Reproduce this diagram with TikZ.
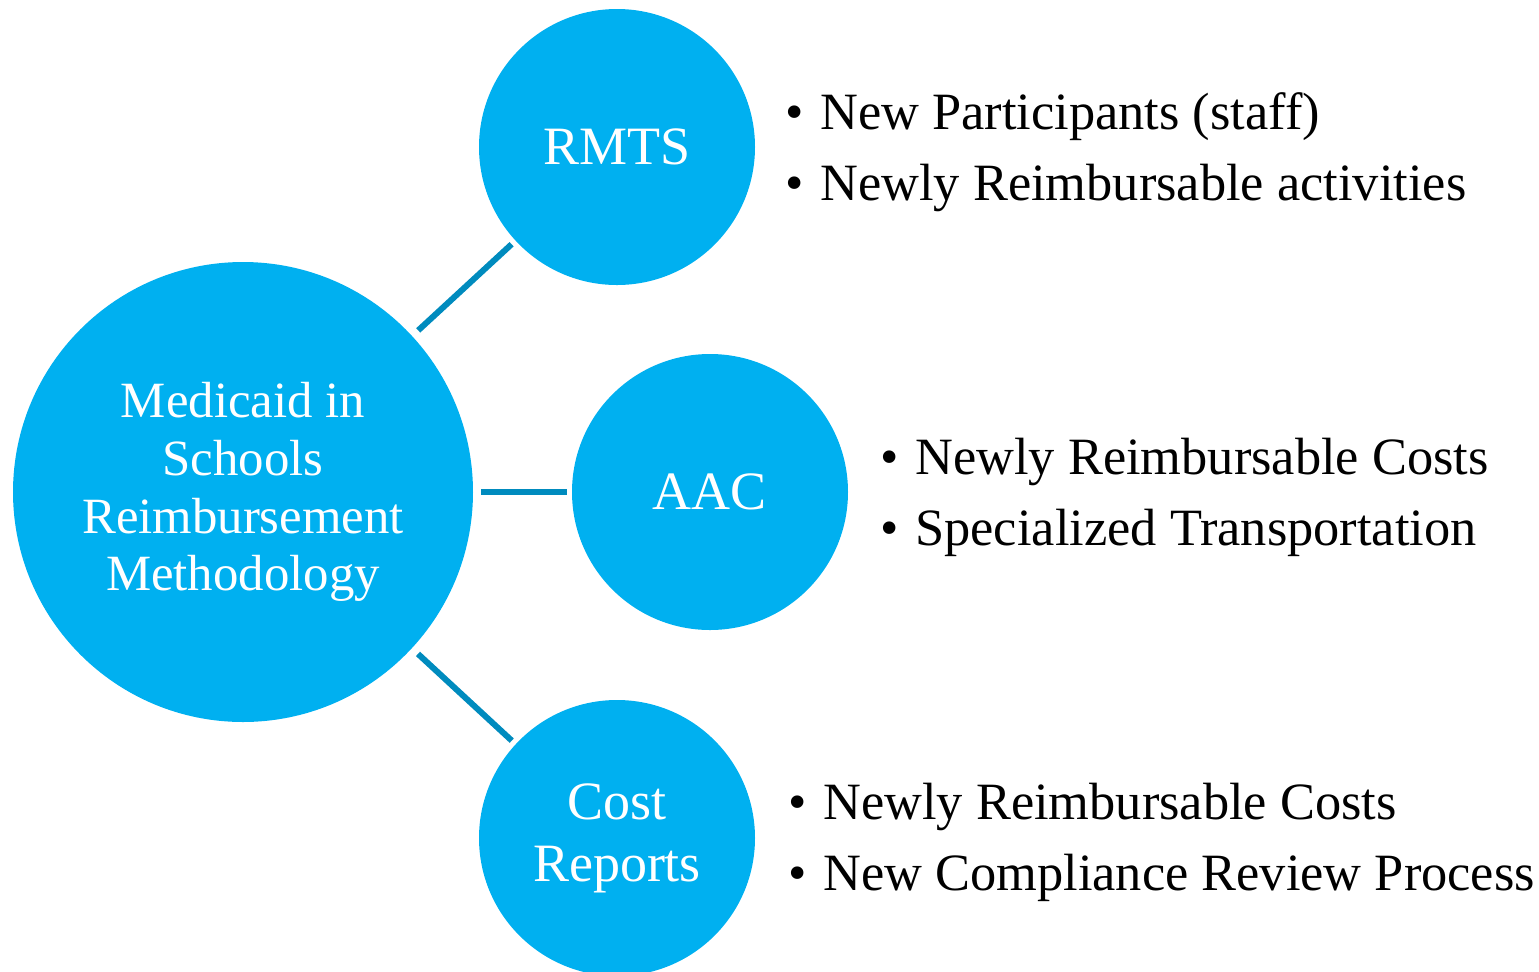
\documentclass[tikz,border=0pt]{standalone}
\usepackage{fontspec}
\setmainfont{Liberation Serif}
\definecolor{bubblefill}{RGB}{0,176,240}
\definecolor{linkline}{RGB}{0,139,190}
\tikzset{
  bubble/.style={circle, fill=bubblefill, text=white, align=center, inner sep=0pt},
  link/.style={draw=linkline, line width=3pt, shorten <=4pt, shorten >=2.5pt},
  bullet/.style={anchor=base west, inner sep=0pt, font=\fontsize{26.2}{30}\selectfont}
}
\newcommand{\dotitem}[1]{\makebox[17.5pt][l]{\textbullet}#1}
\begin{document}
\begin{tikzpicture}[x=0.5pt, y=-0.5pt]
\useasboundingbox (0,0) rectangle (1539,971);
% the four bubbles
\node[bubble, minimum size=230pt, font=\fontsize{25.4}{28.9}\selectfont] (mis) at (243,492) {Medicaid in\\Schools\\Reimbursement\\Methodology};
\node[bubble, minimum size=138pt, font=\fontsize{27}{31}\selectfont] (rmts) at (617,147) {RMTS};
\node[bubble, minimum size=138pt, font=\fontsize{27}{31}\selectfont] (aac) at (710,492) {AAC};
\node[bubble, minimum size=138pt, font=\fontsize{27}{31}\selectfont] (cost) at (617,838) {Cost\\Reports};
\draw[link] (mis) -- (rmts);
\draw[link] (mis) -- (aac);
\draw[link] (mis) -- (cost);
% bullet notes
\node[bullet] (rmtsA) at (785,129) {\dotitem{New Participants (staff)}};
\node[bullet] (rmtsB) at (785,200) {\dotitem{Newly Reimbursable activities}};
\node[bullet] (aacA) at (880,474) {\dotitem{Newly Reimbursable Costs}};
\node[bullet] (aacB) at (880,545) {\dotitem{Specialized Transportation}};
\node[bullet] (costA) at (788,819) {\dotitem{Newly Reimbursable Costs}};
\node[bullet] (costB) at (788,890) {\dotitem{New Compliance Review Process}};
\end{tikzpicture}
\end{document}
